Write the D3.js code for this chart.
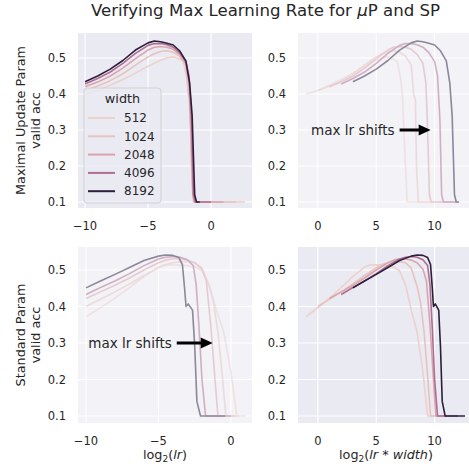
<!DOCTYPE html>
<html>
<head>
<meta charset="utf-8">
<script src="https://cdn.jsdelivr.net/npm/d3@7"></script>
<style>
  body { margin: 0; background: #fff; }
  text { font-family: "DejaVu Sans", sans-serif; fill: #262626; }
</style>
</head>
<body>
<svg id="chart" width="469" height="467"></svg>
<script>
// widths (hue)
const widths = [512, 1024, 2048, 4096, 8192];

// muP sweeps: [log2(lr), valid acc]
const mu512 = [[-10,0.399],[-9,0.41],[-8,0.424],[-7,0.44],[-6,0.458],[-5,0.477],[-4,0.494],[-3.5,0.5],[-3,0.503],[-2.5,0.497],[-2.2,0.49],[-1.9,0.44],[-1.75,0.39],[-1.5,0.2],[-1.35,0.1],[2.7,0.1]];
const mu1024 = [[-10,0.41],[-9,0.422],[-8,0.437],[-7,0.456],[-6,0.48],[-5,0.503],[-4.5,0.512],[-4,0.518],[-3.5,0.52],[-3,0.516],[-2.5,0.505],[-2,0.48],[-1.8,0.4],[-1.65,0.385],[-1.55,0.2],[-1.4,0.1],[2,0.1]];
const mu2048 = [[-10,0.42],[-9,0.433],[-8,0.45],[-7,0.472],[-6,0.498],[-5,0.522],[-4.5,0.53],[-4,0.532],[-3.5,0.53],[-3,0.524],[-2.5,0.51],[-2,0.485],[-1.75,0.43],[-1.6,0.3],[-1.45,0.12],[-1.3,0.1],[1,0.1]];
const mu4096 = [[-10,0.428],[-9,0.443],[-8,0.461],[-7,0.485],[-6,0.513],[-5,0.535],[-4.5,0.54],[-4,0.54],[-3.5,0.537],[-3,0.53],[-2.5,0.515],[-2,0.49],[-1.75,0.45],[-1.55,0.33],[-1.4,0.12],[-1.25,0.1],[0,0.1]];
const mu8192 = [[-10,0.434],[-9,0.45],[-8,0.469],[-7,0.493],[-6,0.522],[-5,0.542],[-4.5,0.547],[-4,0.545],[-3.5,0.541],[-3,0.536],[-2.5,0.52],[-2,0.492],[-1.7,0.43],[-1.5,0.34],[-1.3,0.12],[-1.15,0.1],[-0.9,0.1]];

// SP sweeps: [log2(lr), valid acc]
const sp512 = [[-10,0.372],[-9,0.397],[-8,0.423],[-7,0.452],[-6,0.482],[-5,0.508],[-4.5,0.514],[-4,0.514],[-3,0.512],[-2.5,0.508],[-2,0.498],[-1.5,0.46],[-1,0.39],[-0.5,0.33],[0,0.22],[0.4,0.1],[1,0.1]];
const sp1024 = [[-10,0.4],[-9,0.42],[-8,0.44],[-7,0.462],[-6,0.485],[-5,0.506],[-4.5,0.515],[-4,0.52],[-3.5,0.523],[-3,0.523],[-2.5,0.52],[-2,0.505],[-1.5,0.455],[-1.2,0.41],[-0.9,0.33],[-0.6,0.21],[-0.35,0.1],[0.6,0.1]];
const sp2048 = [[-10,0.422],[-9,0.44],[-8,0.458],[-7,0.478],[-6,0.5],[-5,0.52],[-4.5,0.527],[-4,0.531],[-3.5,0.531],[-3,0.527],[-2.5,0.52],[-2,0.502],[-1.7,0.47],[-1.4,0.35],[-1.1,0.2],[-0.9,0.1],[0.3,0.1]];
const sp4096 = [[-10,0.433],[-9,0.452],[-8,0.47],[-7,0.49],[-6,0.512],[-5,0.53],[-4.5,0.535],[-4,0.537],[-3.5,0.535],[-3,0.528],[-2.6,0.512],[-2.4,0.46],[-2.2,0.34],[-2,0.2],[-1.75,0.1],[0,0.1]];
const sp8192 = [[-10,0.451],[-9,0.47],[-8,0.488],[-7,0.507],[-6,0.526],[-5,0.538],[-4.5,0.541],[-4,0.54],[-3.6,0.534],[-3.35,0.515],[-3.2,0.45],[-3.1,0.4],[-2.95,0.407],[-2.65,0.39],[-2.5,0.29],[-2.35,0.14],[-2.1,0.1],[-0.4,0.1]];

const yTicks = [0.1, 0.2, 0.3, 0.4, 0.5];
const xTicksLr = [-10, -5, 0];
const xTicksLrWidth = [0, 5, 10];

const muSeries = [mu512, mu1024, mu2048, mu4096, mu8192];
const spSeries = [sp512, sp1024, sp2048, sp4096, sp8192];

// seaborn default cubehelix cmap (light=.85, dark=.15, rot=.4, hue=.8)
function cubehelixColor(t) {
    const x = 0.85 + (0.15 - 0.85) * t;
    const a = 0.8 * x * (1 - x) / 2;
    const phi = 2 * Math.PI * (0.4 * x);
    const c = Math.cos(phi), s = Math.sin(phi);
    const cl = v => Math.max(0, Math.min(1, v)) * 255;
    return d3.rgb(
        cl(x + a * (-0.14861 * c + 1.78277 * s)),
        cl(x + a * (-0.29227 * c - 0.90649 * s)),
        cl(x + a * (1.97294 * c))
    ).formatHex();
}
const hueNorm = d3.scaleLinear().domain([512, 8192]).range([0, 1]);
const color = w => cubehelixColor(hueNorm(w));

const svg = d3.select("#chart");

svg.append("text")
    .attr("x", 265.5).attr("y", 16)
    .attr("text-anchor", "middle")
    .style("font-size", "16.6px")
    .html('Verifying Max Learning Rate for <tspan font-style="italic">μ</tspan>P and SP');

const panels = [
    { left: 78, top: 33, w: 174, h: 175, xDomain: [-10.56, 3.25], yDomain: [0.0833, 0.5694],
      series: muSeries, shift: false, faded: false, xTicks: xTicksLr,
      ylabel: ["Maximal Update Param", "valid acc"], legend: true },
    { left: 298, top: 33, w: 174, h: 175, xDomain: [-1.7, 13.2], yDomain: [0.0833, 0.5694],
      series: muSeries, shift: true, faded: true, xTicks: xTicksLrWidth,
      note: { from: 7.0, to: 9.66 } },
    { left: 78, top: 247, w: 174, h: 176, xDomain: [-10.55, 1.45], yDomain: [0.0808, 0.563],
      series: spSeries, shift: false, faded: true, xTicks: xTicksLr,
      ylabel: ["Standard Param", "valid acc"], xlabel: "lr",
      note: { from: -3.74, to: -1.26 } },
    { left: 298, top: 247, w: 174, h: 176, xDomain: [-1.7, 13.2], yDomain: [0.0808, 0.563],
      series: spSeries, shift: true, faded: false, xTicks: xTicksLrWidth, xlabel: "lrw" }
];

panels.forEach(p => {
    const x = d3.scaleLinear().domain(p.xDomain).range([p.left, p.left + p.w]);
    const y = d3.scaleLinear().domain(p.yDomain).range([p.top + p.h, p.top]);
    const g = svg.append("g");

    g.append("rect")
        .attr("x", p.left).attr("y", p.top)
        .attr("width", p.w).attr("height", p.h)
        .attr("fill", "#eaeaf2")
        .attr("opacity", p.faded ? 0.6 : 1);

    // grid
    g.selectAll(".gx").data(p.xTicks).join("line")
        .attr("x1", d => x(d)).attr("x2", d => x(d))
        .attr("y1", p.top).attr("y2", p.top + p.h)
        .attr("stroke", "#fff").attr("stroke-width", 1.1);
    g.selectAll(".gy").data(yTicks).join("line")
        .attr("x1", p.left).attr("x2", p.left + p.w)
        .attr("y1", d => y(d)).attr("y2", d => y(d))
        .attr("stroke", "#fff").attr("stroke-width", 1.1);

    // lines
    const line = d3.line()
        .x(d => x(d[0]))
        .y(d => y(d[1]));
    const lines = g.append("g").attr("opacity", p.faded ? 0.5 : 1);
    p.series.forEach((s, i) => {
        const off = p.shift ? Math.log2(widths[i]) : 0;
        lines.append("path")
            .datum(s.map(d => [d[0] + off, d[1]]))
            .attr("d", line)
            .attr("fill", "none")
            .attr("stroke", color(widths[i]))
            .attr("stroke-width", 1.6)
            .attr("stroke-linejoin", "round");
    });

    // tick labels
    const fmtX = d => d < 0 ? "\u2212" + Math.abs(d) : String(d);
    svg.append("g").selectAll("text").data(p.xTicks).join("text")
        .attr("x", d => x(d))
        .attr("y", p.top + p.h + 22)
        .attr("text-anchor", "middle")
        .style("font-size", "11.5px")
        .text(fmtX);
    svg.append("g").selectAll("text").data(yTicks).join("text")
        .attr("x", p.left - 12)
        .attr("y", d => y(d))
        .attr("dy", "0.35em")
        .attr("text-anchor", "end")
        .style("font-size", "11.5px")
        .text(d3.format(".1f"));

    if (p.ylabel) {
        const cy = p.top + p.h / 2;
        p.ylabel.forEach((t, k) => {
            svg.append("text")
                .attr("transform", `translate(${24.5 + k * 15.5},${cy}) rotate(-90)`)
                .attr("text-anchor", "middle")
                .style("font-size", "12.8px")
                .text(t);
        });
    }

    if (p.xlabel) {
        const lbl = svg.append("text")
            .attr("x", p.left + p.w / 2 + (p.xlabel === "lrw" ? 1 : 0))
            .attr("y", 459)
            .attr("text-anchor", "middle")
            .style("font-size", "12.8px");
        lbl.append("tspan").text("log");
        lbl.append("tspan").attr("dy", 3).style("font-size", "9px").text("2");
        lbl.append("tspan").attr("dy", -3).text("(");
        lbl.append("tspan").style("font-style", "italic").text("lr");
        if (p.xlabel === "lrw") {
            lbl.append("tspan").text(" * ");
            lbl.append("tspan").style("font-style", "italic").text("width");
        }
        lbl.append("tspan").text(")");
    }

    if (p.note) {
        const yy = y(0.3);
        const x0 = x(p.note.from), x1 = x(p.note.to);
        svg.append("text")
            .attr("x", x0 - 5).attr("y", yy)
            .attr("dy", "0.35em")
            .attr("text-anchor", "end")
            .style("font-size", "13.5px")
            .text("max lr shifts");
        const hl = 12, sh = 1.6, hh = 5.5;
        svg.append("polygon")
            .attr("points", [
                [x0, yy - sh], [x1 - hl, yy - sh], [x1 - hl, yy - hh], [x1, yy],
                [x1 - hl, yy + hh], [x1 - hl, yy + sh], [x0, yy + sh]
            ].map(d => d.join(",")).join(" "))
            .attr("fill", "#000");
    }

    if (p.legend) {
        const lg = svg.append("g").attr("transform", "translate(84,88)");
        lg.append("rect")
            .attr("width", 77).attr("height", 115)
            .attr("rx", 3)
            .attr("fill", "#eaeaf2").attr("fill-opacity", 0.8)
            .attr("stroke", "#cccccc").attr("stroke-width", 0.8);
        lg.append("text")
            .attr("x", 38.5).attr("y", 11).attr("dy", "0.35em")
            .attr("text-anchor", "middle")
            .style("font-size", "12.8px")
            .text("width");
        widths.forEach((w, i) => {
            const ly = 30 + i * 18.3;
            lg.append("line")
                .attr("x1", 4).attr("x2", 31)
                .attr("y1", ly).attr("y2", ly)
                .attr("stroke", color(w)).attr("stroke-width", 2);
            lg.append("text")
                .attr("x", 40).attr("y", ly).attr("dy", "0.35em")
                .style("font-size", "12px")
                .text(w);
        });
    }
});
</script>
</body>
</html>
